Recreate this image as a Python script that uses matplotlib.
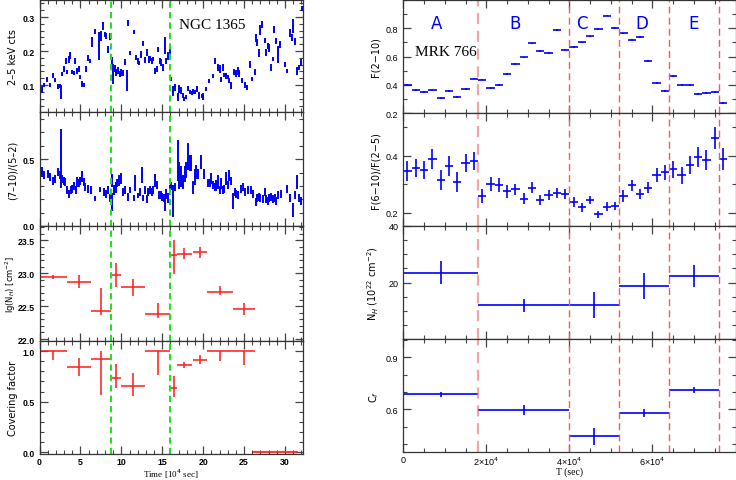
"""Two-column light-curve comparison: NGC 1365 (left) and MRK 766 (right)."""

import matplotlib

matplotlib.use("Agg")
import matplotlib.pyplot as plt
from matplotlib.ticker import MultipleLocator, FixedLocator

# ---- NGC 1365: 2-5 keV counts (time in 1e4 s) ----
cts_t = [0.3, 0.55, 0.96, 1.24, 1.65, 1.85, 2.26, 2.46, 2.59, 2.79, 3.0, 3.2, 3.4, 3.6, 3.77,
         3.97, 4.18, 4.38, 4.58, 4.79, 5.0, 5.23, 5.4, 5.64, 5.9, 6.2, 6.4, 6.83, 7.27, 7.47,
         7.8, 7.96, 8.17, 8.37, 8.6, 8.86, 8.98, 9.2, 9.4, 9.6, 9.8, 10.0, 10.2, 10.4, 10.65,
         10.8, 11.0, 11.5, 11.75, 12.0, 12.2, 12.45, 12.65, 12.9, 13.1, 13.35, 13.55, 13.75,
         13.9, 14.15, 14.3, 14.5, 14.7, 14.9, 15.1, 15.3, 15.5, 15.7, 15.9, 16.1, 16.3, 16.5,
         16.9, 17.1, 17.3, 17.5, 17.7, 17.9, 18.2, 18.4, 18.6, 18.8, 19.0, 19.25, 19.5, 19.8,
         20.0, 20.4, 20.7, 21.2, 21.5, 21.8, 22.0, 22.2, 22.4, 22.6, 22.8, 23.0, 23.2, 23.45,
         23.8, 24.0, 24.2, 24.4, 24.75, 25.1, 25.4, 25.7, 26.0, 26.3, 26.4, 26.6, 26.8, 27.0,
         27.2, 27.5, 27.7, 27.9, 28.1, 28.3, 28.5, 28.7, 28.95, 29.1, 29.35, 29.96, 30.2, 30.6,
         30.8, 31.0, 31.2, 31.5, 31.7, 31.9, 32.1]
cts = [0.088, 0.100, 0.117, 0.100, 0.129, 0.115, 0.096, 0.098, 0.079, 0.132, 0.147, 0.171,
       0.139, 0.176, 0.187, 0.139, 0.135, 0.171, 0.142, 0.147, 0.125, 0.103, 0.100, 0.147,
       0.180, 0.171, 0.226, 0.258, 0.215, 0.244, 0.273, 0.249, 0.244, 0.205, 0.242, 0.168,
       0.132, 0.149, 0.137, 0.142, 0.132, 0.137, 0.135, 0.168, 0.113, 0.283, 0.193, 0.255,
       0.181, 0.171, 0.166, 0.190, 0.222, 0.174, 0.195, 0.176, 0.178, 0.171, 0.176, 0.142,
       0.147, 0.205, 0.171, 0.166, 0.151, 0.215, 0.171, 0.185, 0.197, 0.117, 0.083, 0.093,
       0.064, 0.088, 0.083, 0.069, 0.059, 0.064, 0.090, 0.081, 0.076, 0.081, 0.079, 0.088,
       0.069, 0.069, 0.067, 0.088, 0.113, 0.127, 0.171, 0.151, 0.147, 0.117, 0.151, 0.129,
       0.127, 0.125, 0.113, 0.098, 0.139, 0.135, 0.142, 0.135, 0.113, 0.100, 0.093, 0.161,
       0.117, 0.139, 0.239, 0.224, 0.195, 0.263, 0.278, 0.231, 0.195, 0.215, 0.209, 0.151,
       0.176, 0.263, 0.229, 0.190, 0.219, 0.161, 0.142, 0.253, 0.239, 0.273, 0.229, 0.142,
       0.151, 0.166, 0.325]
cts_err = [0.010, 0.005, 0.008, 0.006, 0.008, 0.006, 0.006, 0.006, 0.020, 0.006, 0.008, 0.010,
           0.006, 0.010, 0.010, 0.006, 0.006, 0.010, 0.008, 0.008, 0.006, 0.008, 0.006, 0.008,
           0.008, 0.006, 0.015, 0.008, 0.040, 0.015, 0.012, 0.008, 0.008, 0.010, 0.010, 0.015,
           0.030, 0.010, 0.010, 0.010, 0.008, 0.010, 0.008, 0.008, 0.030, 0.008, 0.006, 0.006,
           0.006, 0.008, 0.006, 0.010, 0.008, 0.010, 0.010, 0.010, 0.008, 0.008, 0.006, 0.008,
           0.008, 0.008, 0.010, 0.010, 0.010, 0.025, 0.010, 0.012, 0.010, 0.006, 0.015, 0.010,
           0.012, 0.012, 0.010, 0.008, 0.006, 0.006, 0.008, 0.006, 0.006, 0.008, 0.006, 0.008,
           0.010, 0.006, 0.010, 0.006, 0.006, 0.006, 0.010, 0.010, 0.012, 0.008, 0.010, 0.006,
           0.008, 0.006, 0.008, 0.010, 0.008, 0.010, 0.012, 0.010, 0.008, 0.008, 0.006, 0.010,
           0.006, 0.008, 0.012, 0.010, 0.012, 0.015, 0.010, 0.008, 0.010, 0.010, 0.012, 0.010,
           0.006, 0.010, 0.008, 0.025, 0.010, 0.008, 0.006, 0.012, 0.010, 0.020, 0.010, 0.012,
           0.008, 0.010, 0.008]

# ---- NGC 1365: hardness ratio (7-10)/(5-2) ----
hr_t = [0.3, 0.5, 1.04, 1.24, 1.65, 1.85, 2.26, 2.46, 2.6, 2.75, 2.95, 3.16, 3.4, 3.6, 3.8,
        4.0, 4.2, 4.4, 4.6, 4.8, 5.0, 5.2, 5.4, 5.6, 5.9, 6.3, 6.8, 7.35, 7.85, 8.1, 8.4, 8.6,
        8.8, 8.9, 9.1, 9.3, 9.5, 9.7, 9.9, 10.2, 10.4, 10.8, 11.05, 11.5, 11.7, 12.0, 12.3,
        12.5, 12.7, 12.9, 13.1, 13.3, 13.5, 13.7, 13.9, 14.15, 14.3, 14.6, 14.8, 15.0, 15.2,
        15.3, 15.5, 15.7, 15.95, 16.1, 16.3, 16.5, 16.9, 17.1, 17.3, 17.5, 17.75, 17.95, 18.15,
        18.35, 18.55, 18.75, 18.95, 19.15, 19.35, 19.7, 20.1, 20.6, 20.8, 21.0, 21.2, 21.4,
        21.6, 21.8, 22.0, 22.2, 22.4, 22.6, 22.85, 23.05, 23.2, 23.45, 23.65, 23.85, 24.05,
        24.25, 24.65, 24.85, 25.1, 25.5, 25.9, 26.1, 26.4, 26.6, 26.8, 27.0, 27.3, 27.5, 27.7,
        27.9, 28.1, 28.3, 28.5, 28.75, 28.95, 29.15, 29.55, 30.2, 30.6, 31.0, 31.2, 31.5,
        31.7, 32.0]
hr = [0.405, 0.38, 0.39, 0.37, 0.34, 0.355, 0.405, 0.38, 0.505, 0.355, 0.34, 0.33, 0.27,
      0.24, 0.27, 0.28, 0.30, 0.27, 0.33, 0.32, 0.34, 0.37, 0.33, 0.29, 0.28, 0.27, 0.205,
      0.275, 0.255, 0.24, 0.27, 0.21, 0.18, 0.34, 0.27, 0.29, 0.32, 0.34, 0.355, 0.255, 0.27,
      0.22, 0.27, 0.21, 0.32, 0.23, 0.255, 0.38, 0.21, 0.27, 0.205, 0.255, 0.27, 0.255, 0.27,
      0.34, 0.305, 0.23, 0.235, 0.22, 0.21, 0.17, 0.24, 0.21, 0.27, 0.30, 0.19, 0.29, 0.49,
      0.38, 0.37, 0.33, 0.39, 0.42, 0.52, 0.47, 0.47, 0.29, 0.37, 0.405, 0.39, 0.48, 0.39,
      0.32, 0.32, 0.355, 0.305, 0.29, 0.305, 0.33, 0.27, 0.32, 0.27, 0.28, 0.355, 0.305,
      0.38, 0.34, 0.19, 0.255, 0.24, 0.23, 0.28, 0.29, 0.255, 0.27, 0.27, 0.24, 0.18, 0.21,
      0.22, 0.21, 0.205, 0.255, 0.205, 0.19, 0.21, 0.22, 0.20, 0.21, 0.19, 0.23, 0.24, 0.275,
      0.21, 0.12, 0.23, 0.33, 0.21, 0.19]
hr_err = [0.04, 0.03, 0.03, 0.03, 0.03, 0.03, 0.03, 0.03, 0.22, 0.03, 0.03, 0.03, 0.03,
          0.03, 0.03, 0.03, 0.03, 0.03, 0.04, 0.03, 0.03, 0.04, 0.03, 0.03, 0.03, 0.03, 0.02,
          0.02, 0.03, 0.03, 0.03, 0.03, 0.07, 0.05, 0.04, 0.04, 0.03, 0.04, 0.04, 0.03, 0.03,
          0.03, 0.02, 0.02, 0.06, 0.02, 0.03, 0.06, 0.02, 0.03, 0.03, 0.03, 0.03, 0.03, 0.03,
          0.05, 0.03, 0.03, 0.03, 0.03, 0.03, 0.06, 0.04, 0.04, 0.04, 0.03, 0.12, 0.03, 0.15,
          0.10, 0.08, 0.05, 0.06, 0.06, 0.10, 0.06, 0.06, 0.05, 0.06, 0.05, 0.04, 0.05, 0.04,
          0.03, 0.03, 0.04, 0.03, 0.03, 0.04, 0.05, 0.03, 0.04, 0.03, 0.03, 0.05, 0.03,
          0.04, 0.03, 0.06, 0.03, 0.03, 0.03, 0.03, 0.03, 0.03, 0.03, 0.03, 0.03, 0.03, 0.03,
          0.03, 0.03, 0.03, 0.03, 0.03, 0.03, 0.03, 0.03, 0.03, 0.03, 0.03, 0.03, 0.03, 0.03,
          0.03, 0.05, 0.03, 0.05, 0.03, 0.03]

# ---- NGC 1365: spectral fits per time bin ----
bin_t = [1.67, 4.82, 7.53, 9.36, 11.42, 14.45, 16.4, 17.7, 19.6, 22.05, 24.95]
bin_w = [1.67, 1.48, 1.23, 0.59, 1.48, 1.55, 0.4, 0.9, 0.9, 1.55, 1.35]
lgnh = [22.95, 22.87, 22.42, 22.98, 22.79, 22.38, 23.28, 23.30, 23.32, 22.72, 22.45]
lgnh_lo = [0.03, 0.10, 0.06, 0.19, 0.14, 0.06, 0.29, 0.08, 0.09, 0.05, 0.09]
lgnh_hi = [0.03, 0.10, 0.35, 0.17, 0.12, 0.17, 0.22, 0.08, 0.08, 0.08, 0.10]
cov = [1.0, 0.84, 0.924, 0.733, 0.66, 1.0, 0.637, 0.865, 0.914, 1.0, 1.0]
cov_lo = [0.086, 0.09, 0.36, 0.10, 0.10, 0.24, 0.09, 0.03, 0.04, 0.10, 0.14]
cov_hi = [0.0, 0.09, 0.08, 0.14, 0.12, 0.0, 0.12, 0.03, 0.05, 0.0, 0.0]
cov_zero_bin = (26.25, 31.5)
green_t = [8.77, 15.97]

# ---- MRK 766 (time in s) ----
mrk_t = [1000 + 2000 * i for i in range(39)]
f210 = [0.400, 0.365, 0.347, 0.360, 0.307, 0.358, 0.314, 0.370, 0.444, 0.437, 0.379, 0.398,
        0.474, 0.547, 0.593, 0.693, 0.637, 0.626, 0.790, 0.649, 0.665, 0.700, 0.742, 0.793,
        0.890, 0.802, 0.763, 0.716, 0.737, 0.567, 0.412, 0.356, 0.463, 0.400, 0.400, 0.335,
        0.342, 0.347, 0.272]
ratio = [0.345, 0.356, 0.349, 0.388, 0.315, 0.365, 0.306, 0.374, 0.380, 0.259, 0.301, 0.296,
         0.275, 0.282, 0.249, 0.288, 0.244, 0.261, 0.268, 0.265, 0.238, 0.218, 0.245, 0.194,
         0.221, 0.224, 0.259, 0.296, 0.265, 0.288, 0.333, 0.341, 0.353, 0.332, 0.367, 0.394,
         0.386, 0.462, 0.388]
ratio_err = [0.035, 0.032, 0.032, 0.035, 0.035, 0.035, 0.035, 0.032, 0.032, 0.025, 0.025,
             0.025, 0.022, 0.020, 0.020, 0.020, 0.018, 0.018, 0.018, 0.018, 0.018, 0.015,
             0.015, 0.012, 0.015, 0.015, 0.020, 0.020, 0.018, 0.020, 0.025, 0.028, 0.030,
             0.030, 0.032, 0.035, 0.035, 0.040, 0.040]
seg_edges = [0, 18000, 40000, 52000, 64000, 76000]
seg_names = ["A", "B", "C", "D", "E"]
seg_label_x = [8000, 27000, 43000, 57500, 70000]
nh = [23.5, 11.9, 12.1, 18.8, 22.3]
nh_err = [4.2, 2.3, 4.7, 4.6, 4.0]
cf = [0.686, 0.598, 0.447, 0.581, 0.713]
cf_err = [0.015, 0.028, 0.050, 0.022, 0.018]

W, H = 736, 481
BLUE = "#0000ff"
RED = "#ff1a1a"
GREEN = "#22e022"
DASHRED = "#e86060"
SERIF = "Liberation Serif"
SANS = "Liberation Sans"


def rect(l, r, t, b):
    return [l / W, 1 - b / H, (r - l) / W, (b - t) / H]


def style(ax, bold=False, size=6.5):
    for s in ax.spines.values():
        s.set_color("#333333")
        s.set_linewidth(0.9)
    ax.tick_params(which="both", direction="in", top=True, right=True, colors="#444444",
                   labelcolor="black", labelsize=size, pad=3.5)
    ax.tick_params(axis="x", pad=2)
    ax.tick_params(which="major", length=6, width=0.9)
    ax.tick_params(which="minor", length=3, width=0.8)
    for lab in ax.get_yticklabels() + ax.get_xticklabels():
        lab.set_family(SANS)
        if bold:
            lab.set_fontweight("bold")


fig = plt.figure(figsize=(W / 100, H / 100), dpi=100)

left_rows = [(1, 113), (113, 227), (227, 342), (342, 455)]
right_rows = [(1, 114), (114, 227), (227, 340), (340, 453)]
L = [fig.add_axes(rect(39.5, 303, t, b)) for t, b in left_rows]
R = [fig.add_axes(rect(403.3, 735.5, t, b)) for t, b in right_rows]

# ---------------- left column ----------------
L[0].errorbar(cts_t, cts, yerr=cts_err, xerr=0.06, fmt="none", ecolor=BLUE, elinewidth=1.4)
L[0].set_ylim(0.021, 0.35)
L[0].yaxis.set_major_locator(FixedLocator([0.1, 0.2, 0.3]))
L[0].yaxis.set_minor_locator(MultipleLocator(0.02))
L[0].set_ylabel("2–5 keV cts", fontsize=7)
L[0].text(21.1, 0.278, "NGC 1365", family=SERIF, fontsize=11, ha="center", va="center")

L[1].errorbar(hr_t, hr, yerr=hr_err, xerr=0.06, fmt="none", ecolor=BLUE, elinewidth=1.4)
L[1].set_ylim(0, 0.853)
L[1].yaxis.set_major_locator(FixedLocator([0.0, 0.5]))
L[1].yaxis.set_minor_locator(MultipleLocator(0.1))
L[1].set_ylabel("(7–10)/(5–2)", fontsize=7)

L[2].errorbar(bin_t, lgnh, yerr=[lgnh_lo, lgnh_hi], xerr=bin_w, fmt="none", ecolor=RED,
              elinewidth=1.3, alpha=0.85)
L[2].set_ylim(21.97, 23.72)
L[2].yaxis.set_major_locator(FixedLocator([22.0, 22.5, 23.0, 23.5]))
L[2].yaxis.set_minor_locator(MultipleLocator(0.1))
L[2].set_ylabel("lg(N$_H$) [cm$^{-2}$]", fontsize=6)

L[3].errorbar(bin_t, cov, yerr=[cov_lo, cov_hi], xerr=bin_w, fmt="none", ecolor=RED,
              elinewidth=1.3, alpha=0.85)
L[3].plot(cov_zero_bin, [0, 0], color=RED, lw=1.6, alpha=0.85, clip_on=False)
L[3].set_ylim(-0.017, 1.1)
L[3].yaxis.set_major_locator(FixedLocator([0.0, 0.5, 1.0]))
L[3].yaxis.set_minor_locator(MultipleLocator(0.1))
L[3].set_ylabel("Covering factor", fontsize=7)
L[3].set_xlabel("Time [10$^4$ sec]", fontsize=6.5, family=SERIF)

for i, ax in enumerate(L):
    ax.set_xlim(0, 32.2)
    ax.xaxis.set_major_locator(MultipleLocator(5))
    ax.xaxis.set_minor_locator(MultipleLocator(1))
    for g in green_t:
        ax.axvline(g, color=GREEN, lw=1.5, ls=(0, (3, 2)))
    if i < 3:
        ax.tick_params(labelbottom=False)
    style(ax, bold=True, size=6.3)
    ax.yaxis.set_label_coords(-0.082, 0.5)
L[3].xaxis.set_label_coords(0.5, -0.115)

# ---------------- right column ----------------
R[0].errorbar(mrk_t, f210, yerr=0.006, xerr=1000, fmt="none", ecolor=BLUE, elinewidth=1.2)
R[0].set_ylim(0.2, 1.0)
R[0].yaxis.set_major_locator(FixedLocator([0.2, 0.4, 0.6, 0.8]))
R[0].yaxis.set_minor_locator(MultipleLocator(0.1))
R[0].set_ylabel("F(2−10)", fontsize=7)
R[0].text(2800, 0.633, "MRK 766", family=SERIF, fontsize=11, ha="left", va="center")
for name, xs in zip(seg_names, seg_label_x):
    R[0].text(xs, 0.84, name, color=BLUE, fontsize=12, ha="center", va="center",
              family="DejaVu Sans")

R[1].errorbar(mrk_t, ratio, yerr=ratio_err, xerr=1000, fmt="none", ecolor=BLUE, elinewidth=1.2)
R[1].set_ylim(0.153, 0.55)
R[1].yaxis.set_major_locator(FixedLocator([0.2, 0.4]))
R[1].yaxis.set_minor_locator(MultipleLocator(0.1))
R[1].set_ylabel("F(6−10)/F(2−5)", fontsize=7)

seg_c = [(a + b) / 2 for a, b in zip(seg_edges[:-1], seg_edges[1:])]
seg_w = [(b - a) / 2 for a, b in zip(seg_edges[:-1], seg_edges[1:])]

R[2].errorbar(seg_c, nh, yerr=nh_err, xerr=seg_w, fmt="none", ecolor=BLUE, elinewidth=1.2)
R[2].set_ylim(0, 40)
R[2].yaxis.set_major_locator(FixedLocator([20, 40]))
R[2].yaxis.set_minor_locator(MultipleLocator(5))
R[2].set_ylabel("N$_H$ (10$^{22}$ cm$^{-2}$)", fontsize=7)

R[3].errorbar(seg_c, cf, yerr=cf_err, xerr=seg_w, fmt="none", ecolor=BLUE, elinewidth=1.2)
R[3].set_ylim(0.357, 1.003)
R[3].yaxis.set_major_locator(FixedLocator([0.6, 0.9]))
R[3].yaxis.set_minor_locator(MultipleLocator(0.1))
R[3].set_ylabel("C$_f$", fontsize=7)
R[3].set_xlabel("T (sec)", fontsize=7, family=SERIF)

for i, ax in enumerate(R):
    ax.set_xlim(0, 80000)
    ax.xaxis.set_major_locator(FixedLocator([0, 20000, 40000, 60000]))
    ax.xaxis.set_minor_locator(MultipleLocator(5000))
    ax.set_xticklabels(["0", "2×10$^4$", "4×10$^4$", "6×10$^4$"])
    for k, e in enumerate(seg_edges[1:]):
        if k == 0:
            ax.axvline(e, color=DASHRED, lw=1.6, alpha=0.55, ls=(0, (5, 3)))
        else:
            ax.axvline(e, color=DASHRED, lw=1.0, ls=(0, (5, 3)))
    if i < 3:
        ax.tick_params(labelbottom=False)
    style(ax)
    ax.yaxis.set_label_coords(-0.068, 0.5)
R[3].xaxis.set_label_coords(0.5, -0.13)

fig.savefig("out.png", dpi=100)
